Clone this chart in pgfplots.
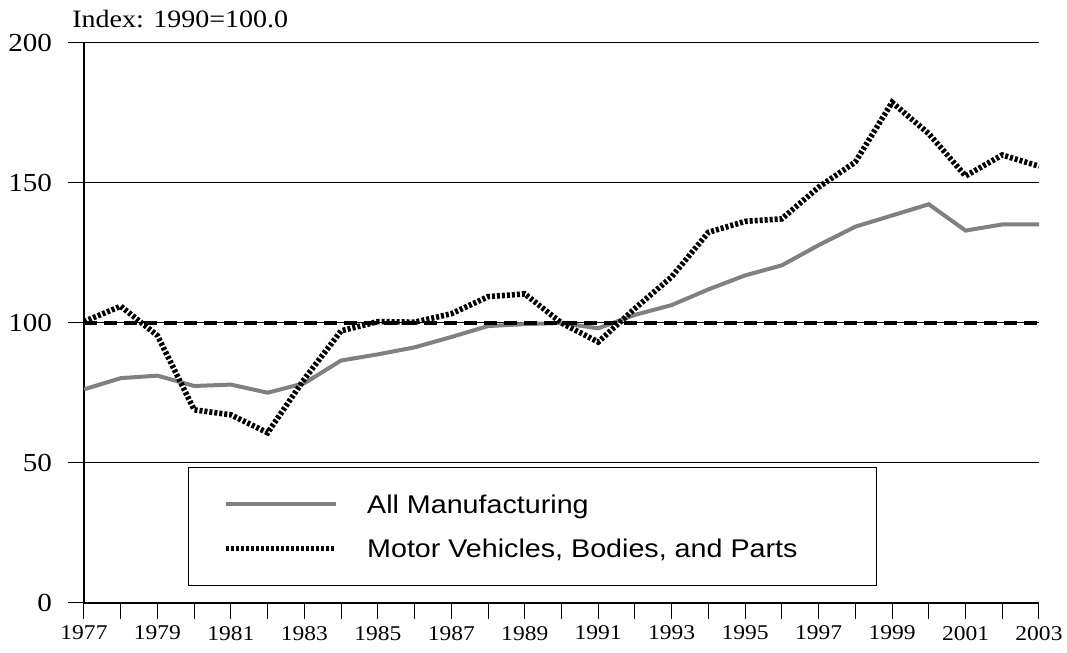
\documentclass[border=0pt]{standalone}
\usepackage{pgfplots}
\pgfplotsset{compat=1.18}
\usepackage{fontspec}
\setmainfont{Liberation Serif}[FakeStretch=1.12]
\newfontfamily\legfont{Liberation Sans}[FakeStretch=1.12]
\definecolor{mfg}{RGB}{128,128,128}
\newcommand{\legentry}[1]{\makebox[237pt][l]{#1}}
\begin{document}
\begin{tikzpicture}
\useasboundingbox (-42pt,-25pt) rectangle (491.5pt,301.5pt);
\begin{axis}[
  scale only axis, width=477.5pt, height=280pt,
  xmin=1977, xmax=2003, ymin=0, ymax=200,
  axis x line*=bottom, axis y line*=left,
  axis line style={black, line width=0.6pt},
  xtick={1977,1978,...,2003},
  xticklabels={1977,,1979,,1981,,1983,,1985,,1987,,1989,,1991,,1993,,1995,,1997,,1999,,2001,,2003},
  ytick={0,50,100,150,200},
  yticklabels={0,50,100,150,200},
  tick align=outside, major tick length=8pt,
  tick style={black, line width=0.5pt},
  ymajorgrids, grid style={black, line width=0.5pt},
  y tick label style={font=\fontsize{13}{14}\selectfont, xshift=-4.5pt},
  x tick label style={font=\fontsize{10.5}{11}\selectfont},
  legend style={draw=black, line width=0.5pt, fill=white,
    at={(0.109,0.243)}, anchor=north west,
    inner xsep=17.5pt, inner ysep=7.5pt,
    row sep=0pt, column sep=14pt,
    font=\legfont\fontsize{12.8}{14}\selectfont,
    nodes={inner xsep=0pt, inner ysep=0pt, text height=15.6pt, text depth=6.4pt}},
  legend cell align=left,
  legend image code/.code={\draw[#1] (0pt,0pt) -- (55pt,0pt);},
]
\addplot[mfg, line width=2pt] coordinates {
(1977,76.3) (1978,80.3) (1979,81.2) (1980,77.5) (1981,78.0) (1982,75.1)
(1983,78.5) (1984,86.6) (1985,88.8) (1986,91.3) (1987,95.0) (1988,98.9)
(1989,99.6) (1990,100.0) (1991,98.1) (1992,102.9) (1993,106.4) (1994,112.0)
(1995,117.0) (1996,120.6) (1997,127.8) (1998,134.4) (1999,138.4) (2000,142.4)
(2001,133.0) (2002,135.2) (2003,135.2)};
\addlegendentry{\legentry{All Manufacturing}}
\addplot[black, line width=2.8pt, dash pattern=on 1.5pt off 1pt] coordinates {
(1977,100.5) (1978,106.0) (1979,95.5) (1980,69.0) (1981,67.2) (1982,60.8)
(1983,80.0) (1984,97.2) (1985,100.5) (1986,100.3) (1987,103.3) (1988,109.4)
(1989,110.4) (1990,100.0) (1991,93.2) (1992,105.2) (1993,116.5) (1994,132.4)
(1995,136.3) (1996,137.2) (1997,148.5) (1998,157.5) (1999,178.8) (2000,167.6)
(2001,152.5) (2002,160.0) (2003,156.0)};
\addlegendentry{\legentry{Motor Vehicles, Bodies, and Parts}}
\addplot[black, line width=2.2pt, dash pattern=on 6.5pt off 3.5pt, forget plot] coordinates {(1977,100) (2003,100)};
\end{axis}
\node[anchor=base west, inner sep=0pt, font=\fontsize{12.5}{13}\selectfont] at (-6pt,287.5pt) {Index: 1990=100.0};
\end{tikzpicture}
\end{document}
